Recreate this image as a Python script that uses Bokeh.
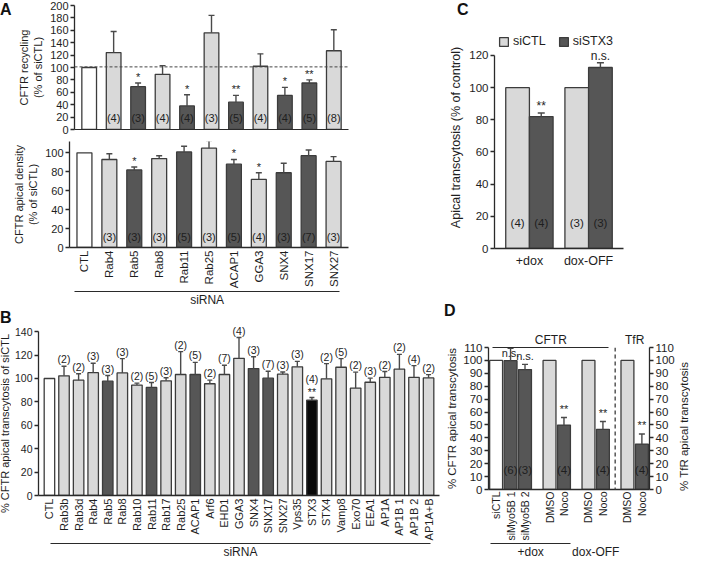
import math
from bokeh.plotting import figure
from bokeh.models import (FactorRange, Range1d, LinearAxis, Span, Div,
                          ColumnDataSource, FixedTicker, Legend, LegendItem)
from bokeh.layouts import column, row
from bokeh.transform import dodge
from bokeh.core.properties import value
from bokeh.embed import file_html
from bokeh.resources import INLINE

# ======================= DATA =======================
# Panel A (top): CFTR recycling (% of siCTL)
a_cats = ["CTL", "Rab4", "Rab5", "Rab8", "Rab11", "Rab25", "ACAP1", "GGA3", "SNX4", "SNX17", "SNX27"]
a_rec = [100, 124, 69, 89, 38, 156, 44, 102, 55, 75, 127]
a_rec_err = [0, 34, 6, 14, 18, 28, 11, 20, 13, 5, 34]
a_rec_n = ["", "(4)", "(3)", "(4)", "(4)", "(3)", "(5)", "(4)", "(4)", "(5)", "(8)"]
a_rec_sig = ["", "", "*", "", "*", "", "**", "", "*", "**", ""]
a_rec_ref = 101

# Panel A (bottom): CFTR apical density (% of siCTL)
a_den = [100, 93, 82, 94, 101, 105, 88, 72, 79, 97, 91]
a_den_err = [0, 6, 3, 3, 6, 8, 5, 7, 10, 6, 5]
a_den_n = ["", "(3)", "(3)", "(3)", "(5)", "(3)", "(5)", "(4)", "(3)", "(7)", "(3)"]
a_den_sig = ["", "", "*", "", "", "", "*", "*", "", "", ""]

# Panel B: % CFTR apical transcytosis of siCTL
b_cats = ["CTL", "Rab3b", "Rab3d", "Rab4", "Rab5", "Rab8", "Rab10", "Rab11", "Rab17", "Rab25",
          "ACAP1", "Arf6", "EHD1", "GGA3", "SNX4", "SNX17", "SNX27", "Vps35", "STX3", "STX4",
          "Vamp8", "Exo70", "EEA1", "AP1A", "AP1B 1", "AP1B 2", "AP1A+B"]
b_vals = [100, 102.3, 98.6, 105, 97.7, 104.8, 94.4, 92.4, 98, 103.4, 103.4, 95.5, 103.4, 117.2,
          108.5, 100.3, 103.7, 110, 81.4, 99.7, 109.6, 91.8, 96.8, 101, 108, 101, 100.5]
b_err = [0, 8.1, 5.4, 8, 4.8, 12.2, 1.6, 4.2, 2.6, 19.6, 10.4, 3.1, 7.9, 17.8, 10.1, 5.9, 1.9,
         4.6, 2.3, 13, 7.4, 13.6, 3.5, 5, 12.6, 10, 2.8]
b_n = ["", "(2)", "(2)", "(3)", "(3)", "(3)", "(2)", "(5)", "(3)", "(2)", "(5)", "(2)", "(7)", "(4)",
       "(3)", "(7)", "(3)", "(3)", "(4)", "(2)", "(5)", "(2)", "(3)", "(2)", "(2)", "(4)", "(2)"]
b_sig = [""] * 18 + ["**"] + [""] * 8

# Panel C: Apical transcytosis (% of control)
c_groups = ["+dox", "dox-OFF"]
c_series = ["siCTL", "siSTX3"]
c_ctl = [100, 100]
c_ctl_err = [0, 0]
c_stx = [82, 112.5]
c_stx_err = [2.2, 3]
c_ctl_n = ["(4)", "(3)"]
c_stx_n = ["(4)", "(3)"]
c_stx_sig = ["**", "n.s."]

# Panel D: % CFTR / TfR apical transcytosis
d_groups = ["siRNA +dox", "drug +dox", "dox-OFF", "TfR"]
d_labels = [["siCTL", "siMyo5B 1", "siMyo5B 2"], ["DMSO", "Noco"], ["DMSO", "Noco"], ["DMSO", "Noco"]]
d_vals = [100, 99.8, 92.9, 100, 49.9, 100, 46.6, 100, 35.2]
d_err = [0, 9.5, 4, 0, 5.9, 0, 6.1, 0, 7.8]
d_n = ["", "(6)", "(3)", "", "(4)", "", "(4)", "", "(4)"]
d_sig = ["", "n.s.", "n.s.", "", "**", "", "**", "", "**"]

# ======================= STYLE =======================
FONT = "Liberation Sans"
WHITE, LIGHT, DARK, BLACK = "#ffffff", "#d9d9d9", "#565656", "#0a0a0a"
EDGE, AXIS, TXT, ERR = "#3c3c3c", "#2a2a2a", "#1e1e1e", "#4a4a4a"
A_DARK = {"Rab5", "Rab11", "ACAP1", "SNX4", "SNX17"}
B_DARK = {"Rab5", "Rab11", "ACAP1", "SNX4", "SNX17"}
B_BLACK = {"STX3"}
D_DARK = {"siMyo5B 1", "siMyo5B 2", "Noco"}
D_WHITE = {"siCTL"}


def fill_for(cat, dark, black=()):
    if cat in ("CTL", "siCTL") and cat not in dark:
        return WHITE
    if cat in black:
        return BLACK
    if cat in dark:
        return DARK
    return LIGHT


def make_fig(w, h, xr, yr, left, right, top, bottom):
    p = figure(width=w, height=h, x_range=xr, y_range=yr, output_backend="svg",
               toolbar_location=None, tools="", min_border_left=left, min_border_right=right,
               min_border_top=top, min_border_bottom=bottom)
    p.outline_line_color = None
    p.grid.grid_line_color = None
    p.background_fill_color = "white"
    p.border_fill_color = "white"
    return p


def style_axis(ax, label_size="11px", title_size="11px"):
    ax.axis_line_color = AXIS
    ax.axis_line_width = 1.3
    ax.major_tick_line_color = AXIS
    ax.major_tick_line_width = 1.3
    ax.major_tick_out = 4
    ax.major_tick_in = 0
    ax.minor_tick_line_color = None
    ax.major_label_text_font = FONT
    ax.major_label_text_font_size = label_size
    ax.major_label_text_color = TXT
    ax.axis_label_text_font = FONT
    ax.axis_label_text_font_size = title_size
    ax.axis_label_text_font_style = "normal"
    ax.axis_label_text_color = TXT
    ax.major_label_standoff = 2
    ax.axis_label_standoff = 3


def bracket_axis(p, bounds=None, place="below", ticks=(), tick_labels=(), size="12px",
                 rotate=False, standoff=1):
    # tick-less axis on the plot's own x scale: baseline, bracket line and/or labels
    ticks = list(ticks)
    ax = LinearAxis(ticker=FixedTicker(ticks=ticks),
                    major_label_overrides={t: s for t, s in zip(ticks, tick_labels)})
    if bounds is not None:
        ax.bounds = bounds
    style_axis(ax, label_size=size, title_size=size)
    ax.major_tick_line_color = None
    ax.major_tick_out = 0
    ax.axis_line_width = 1.2
    ax.major_label_standoff = standoff
    if rotate:
        ax.major_label_orientation = math.pi / 2
    p.add_layout(ax, place)
    return ax


def category_axis(p, cats, size="11px"):
    # factor labels drawn at the factor centres of the plot's flat FactorRange
    p.xaxis.visible = False
    ax = bracket_axis(p, ticks=[i + 0.5 for i in range(len(cats))], tick_labels=cats,
                      size=size, rotate=True, standoff=3)
    ax.axis_line_width = 1.3
    return ax


def add_err(p, xs, tops, errs, cap, xoff=None):
    rows = [(x, t, t + e) for x, t, e in zip(xs, tops, errs) if e > 0]
    src = ColumnDataSource(dict(x=[r[0] for r in rows], y0=[r[1] for r in rows],
                                y1=[r[2] for r in rows]))
    xs_ = "x" if xoff is None else dodge("x", xoff, range=p.x_range)
    p.segment(x0=xs_, y0="y0", x1=xs_, y1="y1", source=src, line_color=ERR, line_width=1.4)
    p.scatter(x=xs_, y="y1", marker="dash", size=cap, source=src, line_color=ERR, line_width=1.4)


def add_text(p, xs, ys, texts, size="11px", baseline="middle", xoff=None):
    rows = [(x, y, t) for x, y, t in zip(xs, ys, texts) if t]
    src = ColumnDataSource(dict(x=[r[0] for r in rows], y=[r[1] for r in rows],
                                t=[r[2] for r in rows]))
    xs_ = "x" if xoff is None else dodge("x", xoff, range=p.x_range)
    p.text(x=xs_, y="y", text="t", source=src, text_font=value(FONT), text_font_size=size,
           text_align="center", text_baseline=baseline, text_color=TXT)


def letter(text, w, h, left=0, top=0):
    return Div(text=text, width=w, height=h, margin=0,
               styles={"font-family": FONT, "font-weight": "bold", "font-size": "16px",
                       "color": "#111111", "padding-left": f"{left}px", "padding-top": f"{top}px",
                       "line-height": "16px", "box-sizing": "border-box"})


def vertical_title(text, w, h, start_from_bottom, size="11.5px"):
    # text reading bottom-to-top, like a left axis title
    return Div(text=text, width=w, height=h, margin=0,
               styles={"font-family": FONT, "font-size": size, "color": TXT,
                       "writing-mode": "vertical-rl", "transform": "rotate(180deg)",
                       "padding-top": f"{start_from_bottom}px", "line-height": f"{w}px",
                       "box-sizing": "border-box", "white-space": "nowrap"})


LEFT_W, RIGHT_W = 443, 249

# ---------------- Panel A top ----------------
xa1 = FactorRange(factors=a_cats, range_padding=0.1, range_padding_units="absolute")
pa1 = make_fig(LEFT_W - 14, 137, xa1, Range1d(0, 200), 55, 95, 5, 8)
pa1.vbar(x="x", top="top", width=0.6, line_color=EDGE, line_width=1.3, fill_color="color",
         source=ColumnDataSource(dict(x=a_cats, top=a_rec,
                                      color=[fill_for(c, A_DARK) for c in a_cats])))
add_err(pa1, a_cats, a_rec, a_rec_err, 6)
pa1.add_layout(Span(location=a_rec_ref, dimension="width", line_color="#444444",
                    line_dash="3 2", line_width=1))
add_text(pa1, a_cats, [18] * len(a_cats), a_rec_n)
add_text(pa1, a_cats, [t + e for t, e in zip(a_rec, a_rec_err)], a_rec_sig, baseline="bottom")
style_axis(pa1.yaxis[0])
pa1.yaxis.ticker = FixedTicker(ticks=list(range(0, 201, 20)))
pa1.yaxis.axis_label = "CFTR recycling\n(% of siCTL)"
pa1.xaxis.visible = False
bracket_axis(pa1)

# ---------------- Panel A bottom ----------------
xa2 = FactorRange(factors=a_cats, range_padding=0.1, range_padding_units="absolute")
pa2 = make_fig(LEFT_W, 172, xa2, Range1d(0, 112), 69, 95, 4, 0)
pa2.vbar(x="x", top="top", width=0.6, line_color=EDGE, line_width=1.3, fill_color="color",
         source=ColumnDataSource(dict(x=a_cats, top=a_den,
                                      color=[fill_for(c, A_DARK) for c in a_cats])))
add_err(pa2, a_cats, a_den, a_den_err, 6)
add_text(pa2, a_cats, [11.5] * len(a_cats), a_den_n)
add_text(pa2, a_cats, [t + e for t, e in zip(a_den, a_den_err)], a_den_sig, baseline="bottom")
style_axis(pa2.yaxis[0])
pa2.yaxis.ticker = FixedTicker(ticks=list(range(0, 101, 20)))
pa2.yaxis.axis_label = "CFTR apical density\n(% of siCTL)"
category_axis(pa2, a_cats, "11.5px")
bracket_axis(pa2, (0.1, 10.75), ticks=[5.425], tick_labels=["siRNA"])

# ---------------- Panel B ----------------
B_TITLE_W = 11
xb = FactorRange(factors=b_cats, range_padding=0.25, range_padding_units="absolute")
pb = make_fig(LEFT_W - B_TITLE_W, 252, xb, Range1d(0, 147), 20, 4, 14, 0)
pb.vbar(x="x", top="top", width=0.72, line_color=EDGE, line_width=1.3, fill_color="color",
        source=ColumnDataSource(dict(x=b_cats, top=b_vals,
                                     color=[fill_for(c, B_DARK, B_BLACK) for c in b_cats])))
add_err(pb, b_cats, b_vals, b_err, 5)
b_top = [t + e for t, e in zip(b_vals, b_err)]
add_text(pb, b_cats, b_top, b_sig, size="10.5px", baseline="bottom")
add_text(pb, b_cats, [t + (11 if s else 0.8) for t, s in zip(b_top, b_sig)], b_n,
         size="10.5px", baseline="bottom")
style_axis(pb.yaxis[0], "10.5px", "11px")
pb.yaxis.ticker = FixedTicker(ticks=list(range(0, 141, 20)))
pb.yaxis.bounds = (0, 140)
category_axis(pb, b_cats, "11px")
bracket_axis(pb, (0.6, 26.6), ticks=[13.6], tick_labels=["siRNA"])
b_side = column(letter("B", B_TITLE_W, 18, 0, 1),
                vertical_title("% CFTR apical transcytosis of siCTL", B_TITLE_W, 234, 48, "11px"),
                spacing=0)

# ---------------- Panel C ----------------
xc = FactorRange(factors=c_groups, range_padding=0.09, range_padding_units="absolute")
pc = make_fig(RIGHT_W, 270, xc, Range1d(0, 138), 51, 69, 4, 44)
csrc = ColumnDataSource(dict(x=c_groups, ctl=c_ctl, stx=c_stx))
r_ctl = pc.vbar(x=dodge("x", -0.2, range=xc), top="ctl", width=0.4, source=csrc,
                fill_color=LIGHT, line_color=EDGE, line_width=1.3)
r_stx = pc.vbar(x=dodge("x", 0.2, range=xc), top="stx", width=0.4, source=csrc,
                fill_color=DARK, line_color=EDGE, line_width=1.3)
add_err(pc, c_groups, c_ctl, c_ctl_err, 7, xoff=-0.2)
add_err(pc, c_groups, c_stx, c_stx_err, 7, xoff=0.2)
add_text(pc, c_groups, [15.8] * 2, c_ctl_n, size="11.5px", xoff=-0.2)
add_text(pc, c_groups, [15.8] * 2, c_stx_n, size="11.5px", xoff=0.2)
add_text(pc, c_groups, [t + e for t, e in zip(c_stx, c_stx_err)], c_stx_sig, size="12px",
         baseline="bottom", xoff=0.2)
style_axis(pc.yaxis[0], "11.5px", "12.5px")
pc.yaxis.ticker = FixedTicker(ticks=list(range(0, 121, 20)))
pc.yaxis.bounds = (0, 120)
pc.yaxis.axis_label = "Apical transcytosis (% of control)"
style_axis(pc.xaxis[0], "12.5px")
pc.xaxis.major_tick_line_color = None
pc.xaxis.major_tick_out = 0
pc.xaxis.major_label_standoff = 5
leg = Legend(items=[LegendItem(label=c_series[0], renderers=[r_ctl]),
                    LegendItem(label=c_series[1], renderers=[r_stx])],
             orientation="horizontal", location=(4, 200), margin=0, padding=2,
             glyph_width=11, glyph_height=11, label_height=11, label_standoff=4, spacing=12,
             label_text_font=FONT, label_text_font_size="12.5px", label_text_color=TXT,
             border_line_color=None, background_fill_alpha=0)
pc.add_layout(leg)

# ---------------- Panel D ----------------
FP, GP, RP = 0.12, 0.9, 0.09
d_factors = [(g, s) for g, subs in zip(d_groups, d_labels) for s in subs]
d_leaf = [s for _, s in d_factors]
pos = {}
tot = 0.0
for gi, (g, subs) in enumerate(zip(d_groups, d_labels)):
    if gi > 0:
        tot += GP
    for si, s in enumerate(subs):
        if si > 0:
            tot += FP
        pos[(g, s)] = tot + 0.5
        tot += 1
xd = FactorRange(factors=d_factors, factor_padding=FP, group_padding=GP, range_padding=RP,
                 range_padding_units="absolute")
D_TITLE_W = 15
pd_ = make_fig(RIGHT_W - D_TITLE_W, 245, xd, Range1d(0, 110), 33, 20, 31, 0)
pd_.vbar(x="x", top="top", width=1.0, line_color=EDGE, line_width=1.3, fill_color="color",
         source=ColumnDataSource(dict(x=d_factors, top=d_vals,
                                      color=[WHITE if s in D_WHITE else (DARK if s in D_DARK else LIGHT)
                                             for s in d_leaf])))
add_err(pd_, d_factors, d_vals, d_err, 6)
add_text(pd_, d_factors, [15] * len(d_factors), d_n, size="11.5px")
add_text(pd_, d_factors, [min(t + e + 2, 101) for t, e in zip(d_vals, d_err)], d_sig,
         size="11px", baseline="bottom")
style_axis(pd_.yaxis[0], "11.5px", "11.5px")
pd_.yaxis.ticker = FixedTicker(ticks=list(range(0, 111, 10)))
pd_.yaxis.axis_label = "% CFTR apical transcytosis"
pd_.yaxis.axis_label_standoff = 2
rax = LinearAxis(ticker=FixedTicker(ticks=list(range(0, 111, 10))))
style_axis(rax, "11.5px", "11.5px")
pd_.add_layout(rax, "right")
pd_.xaxis.visible = False
g3 = [pos[(d_groups[2], s)] for s in d_labels[2]]
g4 = [pos[(d_groups[3], s)] for s in d_labels[3]]
pd_.add_layout(Span(location=(max(g3) + min(g4)) / 2, dimension="height", line_color="#555555",
                    line_dash="4 3", line_width=1.5))
lab_ax = bracket_axis(pd_, ticks=[pos[f] for f in d_factors], tick_labels=d_leaf, size="10.5px",
                      rotate=True, standoff=2)
lab_ax.axis_line_width = 1.3
first = pos[d_factors[0]]
dox_lo, dox_hi = first - 0.4, pos[(d_groups[1], d_labels[1][-1])] + 0.5
bracket_axis(pd_, (dox_lo, dox_hi), ticks=[(dox_lo + dox_hi) / 2, sum(g3) / 2],
             tick_labels=["+dox", "dox-OFF"])
cf_lo, cf_hi = first - 0.25, max(g3) + 0.45
bracket_axis(pd_, (cf_lo, cf_hi), place="above", ticks=[(cf_lo + cf_hi) / 2, sum(g4) / 2],
             tick_labels=["CFTR", "TfR"])
d_right_title = vertical_title("% TfR apical transcytosis", D_TITLE_W, 245, 70)

left_col = column(row(letter("A", 14, 137, 0, 2), pa1, spacing=0), pa2,
                  row(b_side, pb, spacing=0), spacing=0)
right_col = column(letter("C", RIGHT_W, 22, 14, 2), pc,
                   letter("D", RIGHT_W, 24, 1, 11), row(pd_, d_right_title, spacing=0),
                   spacing=0)
layout = row(left_col, right_col, spacing=0)
open("out.html", "w").write(file_html(layout, INLINE))
